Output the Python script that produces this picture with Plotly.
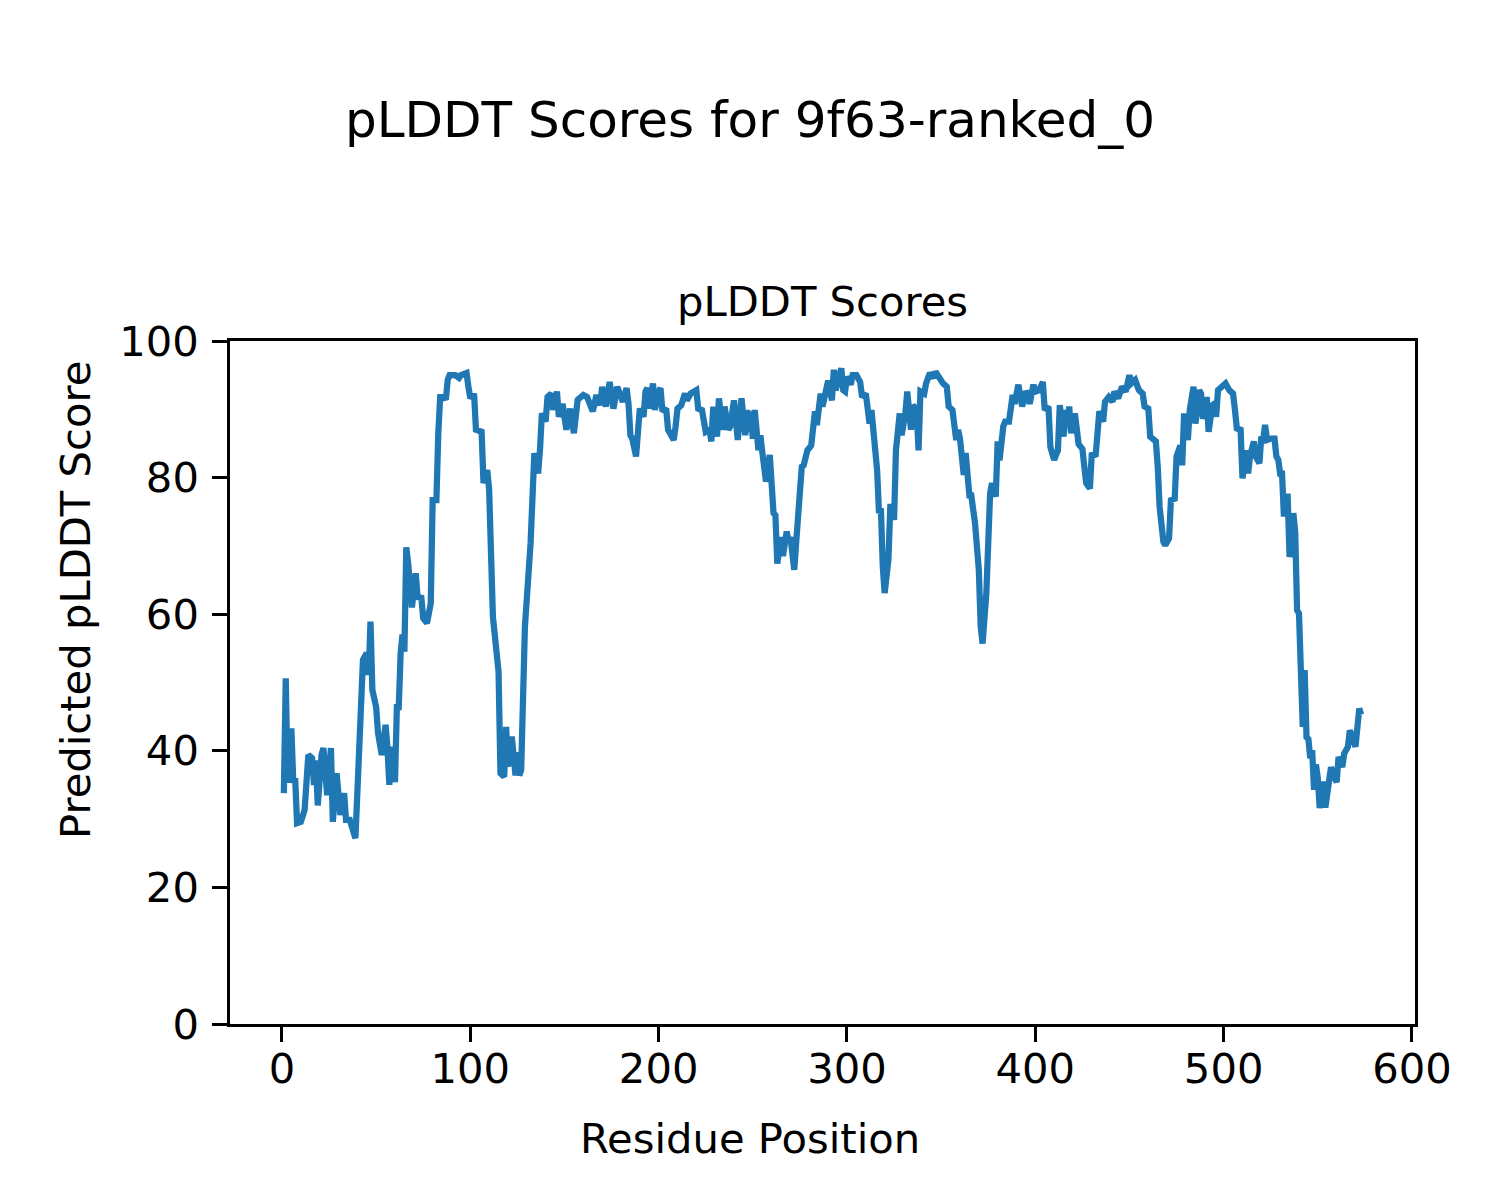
import plotly.graph_objects as go

residue_pos = [
    1, 2, 3, 5, 6, 7, 8, 10, 12, 14, 16, 17, 18, 19, 21, 22, 24, 26, 27, 29,
    31, 33, 34, 36, 39, 41, 43, 45, 46, 47, 48, 50, 51, 53, 55, 56, 57, 58, 60, 61,
    62, 63, 64, 65, 66, 67, 68, 69, 71, 72, 74, 75, 77, 79, 80, 82, 83, 84, 86, 87,
    88, 89, 92, 94,
    95, 98, 99, 100, 102, 103, 106, 107, 109, 110, 112, 114, 115, 116, 118, 119, 120, 121, 122, 124,
    125, 126, 127, 129, 131, 132, 134, 136, 137, 138, 140, 141, 143, 144, 146, 147, 149, 151, 153, 155,
    157, 160, 162, 165, 167, 169, 170, 172, 174, 176, 178, 179, 181, 183, 184, 185, 186, 188, 190, 192,
    193, 194, 195,
    197, 198, 200, 201, 202, 204, 205, 208, 209, 210, 212, 214, 215, 217, 220, 221, 223, 225, 227, 228,
    229, 231, 232, 234, 235, 237, 238, 240, 242, 244, 246, 247, 248, 249, 250, 251, 253, 254, 255, 257,
    259, 261, 262, 263, 265, 266, 268, 269, 270, 272, 273, 275, 276, 277, 279, 281, 283, 284, 286, 287,
    289, 290, 292, 293, 294, 296, 297,
    298, 299, 300, 302, 303, 305, 307, 308, 310, 311, 312, 313, 314, 316, 317, 318, 319, 320, 322, 323,
    324, 325, 326, 328, 329, 331, 332, 334, 335, 337, 338, 339, 341, 342, 344, 346, 347, 349, 351, 353,
    354, 356, 358, 359, 360, 362, 363, 365, 366, 368, 370, 371, 372, 374, 375, 376, 377, 379, 380, 381,
    383, 384, 386, 388, 389, 391, 393, 395, 396,
    397, 399, 400, 402, 404, 405, 407, 408, 410, 412, 413, 415, 416, 417, 418, 419, 421, 423, 425, 427,
    429, 430, 432, 434, 436, 437, 439, 441, 442, 444, 446, 448, 450, 451, 453, 455, 457, 458, 460, 461,
    464, 465, 466, 468, 469, 471, 472, 474, 475, 477, 478, 479, 481, 482, 484, 485, 487, 488, 489, 491,
    492, 494, 495, 496, 497,
    499, 501, 503, 505, 506, 507, 509, 510, 512, 513, 514, 516, 517, 519, 520, 521, 522, 523, 525, 527,
    528, 529, 530, 531, 532, 533, 534, 535, 536, 537, 538, 539, 540, 542, 543, 544, 545, 546, 547, 548,
    549, 550, 551, 553, 554, 555, 557, 558, 560, 561, 563, 564, 566, 567, 569, 570, 572, 573,
]

plddt = [
    33.8, 50.6, 35.3, 43.3, 35.3, 36.0, 29.4, 29.6, 31.3, 39.4, 38.9, 35.0, 38.6, 32.0, 39.4, 40.4, 33.5, 40.4, 29.6, 36.7,
    30.6, 33.8, 29.9, 29.9, 27.2, 41.1, 53.3, 54.3, 51.1, 58.9, 48.9, 46.4, 42.6, 39.4, 43.8, 40.4, 35.0, 40.6, 35.4, 46.4,
    46.4, 54.3, 57.0, 54.5, 69.8, 67.5, 62.0, 61.0, 66.0, 62.5, 62.4, 59.4, 58.7, 61.6, 76.7, 76.7, 86.5, 91.8, 91.8, 91.4,
    94.3, 95.0, 95.0, 94.6,
    95.0, 95.3, 93.3, 91.6, 92.3, 87.0, 86.7, 79.2, 81.1, 78.2, 59.6, 53.8, 51.6, 36.7, 36.2, 43.5, 37.7, 39.6, 42.1, 36.4,
    39.8, 36.4, 37.2, 58.2, 67.0, 70.4, 83.6, 80.6, 84.1, 89.4, 88.2, 91.8, 92.3, 89.9, 92.6, 88.9, 90.8, 87.0, 90.1, 86.5,
    91.4, 92.1, 91.8, 89.7, 92.1, 90.6, 93.3, 90.4, 94.0, 90.1, 93.3, 92.6, 91.1, 93.1, 90.8, 86.2, 85.7, 83.1, 90.1, 88.9,
    92.6, 93.1, 90.1,
    93.8, 89.9, 92.6, 93.1, 89.7, 90.1, 87.0, 85.5, 87.5, 90.1, 90.6, 92.3, 91.3, 92.3, 92.8, 90.1, 89.9, 86.7, 87.0, 85.3,
    90.4, 86.0, 91.6, 87.0, 90.4, 87.0, 87.5, 91.3, 85.5, 91.6, 86.2, 89.9, 86.7, 89.7, 85.7, 89.9, 84.0, 86.2, 83.8, 79.4,
    83.3, 74.8, 74.5, 67.4, 71.3, 68.5, 72.1, 70.6, 71.3, 66.5, 70.4, 77.7, 81.6, 81.8, 84.0, 84.7, 89.7, 87.7, 92.3, 90.4,
    93.3, 94.2, 91.3, 95.8, 92.8, 95.3, 96.0,
    92.8, 92.6, 94.8, 93.6, 95.0, 95.0, 94.0, 91.8, 92.3, 89.9, 87.9, 89.9, 87.5, 81.1, 74.8, 75.5, 67.0, 63.1, 68.0, 75.7,
    75.7, 73.8, 84.0, 89.4, 86.2, 89.4, 92.6, 87.0, 90.6, 89.9, 84.0, 92.6, 92.3, 93.8, 95.3, 94.6, 95.5, 94.4, 93.8, 93.3,
    90.4, 89.9, 85.5, 87.0, 85.7, 80.4, 83.6, 77.4, 77.4, 73.3, 66.5, 58.2, 55.7, 63.1, 72.8, 77.7, 79.2, 77.2, 85.3, 82.5,
    87.5, 88.2, 88.2, 92.1, 90.8, 93.6, 90.4, 92.6, 92.3,
    90.8, 93.6, 92.6, 92.8, 94.0, 89.9, 90.4, 84.5, 82.6, 84.0, 90.6, 86.0, 89.9, 87.5, 90.4, 86.5, 89.4, 84.9, 84.2, 79.2,
    78.4, 83.6, 83.1, 89.7, 88.2, 91.1, 91.8, 91.1, 92.6, 91.6, 93.3, 92.6, 95.0, 93.8, 94.3, 92.8, 92.3, 90.4, 90.1, 86.0,
    85.3, 81.6, 75.7, 70.6, 70.1, 71.1, 76.7, 76.9, 83.1, 84.7, 81.8, 89.4, 85.5, 89.9, 93.3, 87.9, 92.8, 92.3, 88.6, 91.8,
    86.7, 90.6, 90.8, 88.9, 92.8,
    93.3, 93.8, 92.8, 92.3, 89.9, 87.2, 87.0, 79.9, 84.0, 80.6, 83.1, 85.3, 83.1, 82.1, 86.0, 85.5, 87.7, 85.5, 85.7, 85.7,
    83.1, 82.6, 80.6, 80.6, 74.3, 77.2, 77.2, 68.4, 69.8, 74.8, 72.0, 60.6, 60.1, 43.5, 51.8, 42.0, 41.7, 38.9, 40.1, 34.3,
    38.0, 36.0, 31.6, 35.5, 31.7, 34.0, 37.6, 36.6, 35.4, 39.1, 37.6, 39.6, 40.6, 43.0, 40.8, 40.6, 46.2, 45.3,
]

x_ticks = [0, 100, 200, 300, 400, 500, 600]
y_ticks = [0, 20, 40, 60, 80, 100]

suptitle = "pLDDT Scores for 9f63-ranked_0"
axes_title = "pLDDT Scores"
x_label = "Residue Position"
y_label = "Predicted pLDDT Score"

FONT = "DejaVu Sans"
W, H = 1500, 1200
L, R, T, B = 230, 85, 341, 176
PW, PH = W - L - R, H - T - B


def py(ypx):
    return (H - B - ypx) / PH


def px(xpx):
    return (xpx - L) / PW


fig = go.Figure()
fig.add_trace(go.Scatter(
    x=residue_pos, y=plddt, mode="lines",
    line=dict(color="#1f77b4", width=6.25),
    showlegend=False, hoverinfo="skip",
))

axis_common = dict(
    showgrid=False, zeroline=False, showline=True, linecolor="black", linewidth=3.3,
    mirror=True, ticks="outside", ticklen=14.6, tickwidth=3.3, tickcolor="black",
    tickfont=dict(family=FONT, size=41.7, color="black"),
)

fig.update_xaxes(range=[-27.6, 601.6], tickvals=x_ticks, ticklabelstandoff=-9, **axis_common)
fig.update_yaxes(range=[0, 100], tickvals=y_ticks, ticklabelstandoff=5, **axis_common)

annotations = [
    dict(text=suptitle, x=px(750), y=py(120), font=dict(size=50, family=FONT, color="black")),
    dict(text=axes_title, x=0.5, y=py(302), font=dict(size=41.7, family=FONT, color="black")),
    dict(text=x_label, x=px(750), y=py(1138), font=dict(size=41.7, family=FONT, color="black")),
    dict(text=y_label, x=px(75), y=py(600), textangle=-90, font=dict(size=41.7, family=FONT, color="black")),
]
for a in annotations:
    a.update(xref="paper", yref="paper", showarrow=False, xanchor="center", yanchor="middle")

fig.update_layout(
    width=W, height=H,
    margin=dict(l=L, r=R, t=T, b=B, pad=0),
    paper_bgcolor="white", plot_bgcolor="white",
    annotations=annotations,
    font=dict(family=FONT, color="black"),
)

fig.write_html(
    "out.html",
    config={"displayModeBar": False},
    post_script="document.body.style.margin='0px';",
)
